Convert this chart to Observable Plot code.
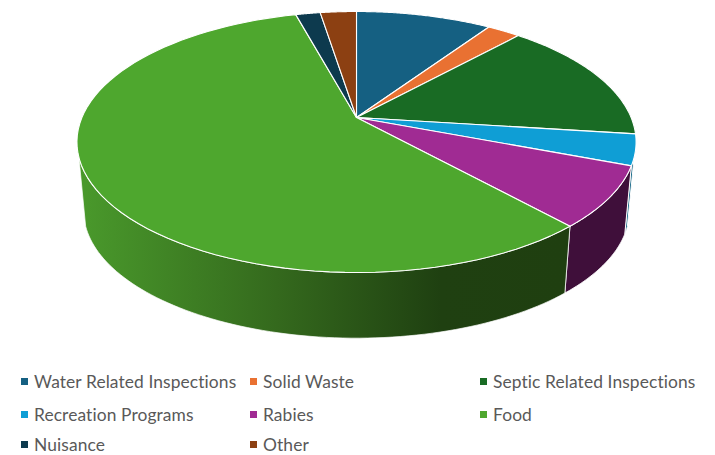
<!DOCTYPE html>
<html>
<head>
<meta charset="utf-8">
<script src="https://cdn.jsdelivr.net/npm/d3@7"></script>
<script src="https://cdn.jsdelivr.net/npm/@observablehq/plot@0.6"></script>
<style>
html,body{margin:0;padding:0;background:#fff;overflow:hidden;height:455px}
#chart svg{display:block}
#legend{display:grid;grid-template-columns:229px 230px 220px;grid-template-rows:33.3px 29.7px 23px;margin:0 0 0 21px;
 font-family:"Lato",sans-serif;font-size:17.4px;letter-spacing:0.1px;color:#595959;height:86px}
#legend div{display:flex;align-items:flex-start;white-space:nowrap;padding-top:10px;box-sizing:border-box}
#legend i{display:inline-block;width:7px;height:7px;margin:3px 6px 0 0;flex:none}
#legend span{line-height:13px}
</style>
</head>
<body>
<div id="chart"></div>
<div id="legend"></div>
<script>
const categories = ["Water Related Inspections","Solid Waste","Septic Related Inspections","Recreation Programs","Rabies","Food","Nuisance","Other"];
const shares = [9.4,2.3,15.3,3.8,7.5,57.4,1.7,2.5];
const topColors = ["#156082","#E97132","#196B24","#0F9ED5","#A02B93","#4EA72E","#0D3A4E","#8C4012"];
const sideColors = {"Recreation Programs":"#0A5F80","Rabies":"#3F0F3A","Food":"url(#foodSide)"};
const width = 715, height = 365;

// Perspective view of the disc
const view = {cx:356, cy:117, R:274.6, H:125.9, k:0.1877};
const lower = {cx:356, cy:186.5, R:268, H:122.8, k:0.1877};
const silhouette = [107.5, 252.5]; // degrees where the side wall turns out of sight
const project = (p, deg) => {
  const a = deg * Math.PI / 180, u = Math.sin(a), v = Math.cos(a), s = 1 / (1 + p.k * v);
  return [p.cx + p.R * u * s, p.cy - p.H * v * s];
};
const arcDegs = (a0, a1) => d3.range(0, 81).map(i => a0 + (a1 - a0) * i / 80);

const arcs = d3.pie().sort(null)(shares).map((a, i) => ({
  name: categories[i],
  a0: a.startAngle * 180 / Math.PI,
  a1: a.endAngle * 180 / Math.PI
}));

const topRows = arcs.flatMap(s => {
  const rim = arcDegs(s.a0, s.a1).map(d => project(view, d));
  return [[view.cx, view.cy], ...rim, [view.cx, view.cy]].map(([x, y]) => ({name: s.name, x, y}));
});

const sideRows = name => {
  const s = arcs.find(d => d.name === name);
  const a0 = Math.max(s.a0, silhouette[0]), a1 = Math.min(s.a1, silhouette[1]);
  const degs = arcDegs(a0, a1);
  const pts = [...degs.map(d => project(view, d)), ...degs.slice().reverse().map(d => project(lower, d))];
  pts.push(pts[0]);
  return pts.map(([x, y]) => ({name, x, y}));
};

const foodStops = [[0,"#49982B"],[0.40,"#34691D"],[0.74,"#1F4011"],[1,"#1F3F10"]];
const defs = () => {
  const ns = "http://www.w3.org/2000/svg";
  const d = document.createElementNS(ns, "defs");
  const g = document.createElementNS(ns, "linearGradient");
  g.setAttribute("id", "foodSide");
  g.setAttribute("gradientUnits", "userSpaceOnUse");
  g.setAttribute("x1", 85); g.setAttribute("x2", 565);
  g.setAttribute("y1", 0); g.setAttribute("y2", 0);
  for (const [o, c] of foodStops) {
    const st = document.createElementNS(ns, "stop");
    st.setAttribute("offset", o); st.setAttribute("stop-color", c);
    g.appendChild(st);
  }
  d.appendChild(g);
  return d;
};

const sideMarks = Object.keys(sideColors).map(name =>
  Plot.line(sideRows(name), {x:"x", y:"y", fill:sideColors[name], stroke:"white", strokeWidth:name === "Food" ? 0.7 : 1, strokeLinejoin:"round"})
);

const chart = Plot.plot({
  width, height,
  margin:0,
  x:{domain:[0,width], range:[0,width], axis:null},
  y:{domain:[0,height], range:[0,height], axis:null},
  color:{domain:categories, range:topColors},
  marks:[
    defs,
    ...sideMarks,
    Plot.line(topRows, {x:"x", y:"y", z:"name", fill:"name", stroke:"white", strokeWidth:1.1, strokeLinejoin:"round"})
  ]
});
document.getElementById("chart").appendChild(chart);

const legend = document.getElementById("legend");
categories.forEach((c, i) => {
  const row = document.createElement("div");
  const sw = document.createElement("i");
  sw.style.background = topColors[i];
  const label = document.createElement("span");
  label.textContent = c;
  row.appendChild(sw);
  row.appendChild(label);
  legend.appendChild(row);
});
</script>
</body>
</html>
